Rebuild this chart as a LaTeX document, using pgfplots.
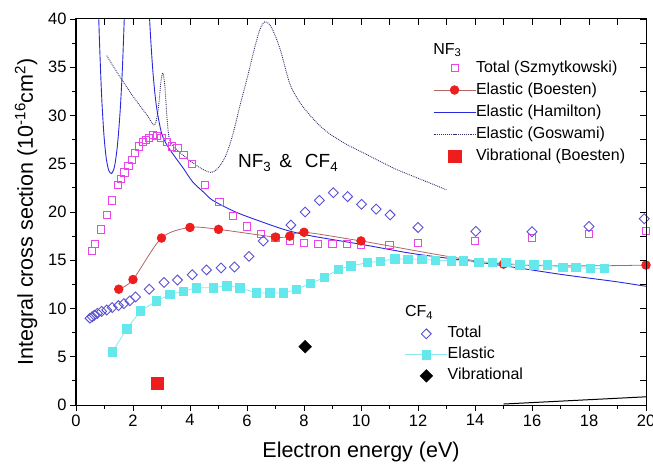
\documentclass[border=0pt]{standalone}
\usepackage{fontspec}
\setmainfont{Liberation Sans}
\usepackage{pgfplots}
\pgfplotsset{compat=1.18}

\definecolor{mag}{RGB}{232,70,232}
\definecolor{dia}{RGB}{90,80,210}
\definecolor{redc}{RGB}{238,30,30}
\definecolor{redl}{RGB}{180,100,100}
\definecolor{hblue}{RGB}{40,40,220}
\definecolor{gos}{RGB}{50,50,110}
\definecolor{cyanm}{RGB}{100,232,236}
\definecolor{cyanl}{RGB}{140,232,236}

\pgfplotsset{
  common/.style={
    at={(0,0)}, anchor=south west, scale only axis,
    width=570bp, height=386bp,
    xmin=0, xmax=20, ymin=0, ymax=40,
    axis line style={line width=1bp},
    every tick/.style={black, line width=0.9bp},
    /pgf/number format/assume math mode=true,
    legend cell align=left,
    legend image code/.code={\draw[mark repeat=2,mark phase=2,##1] plot coordinates {(0bp,0bp) (21bp,0bp) (42bp,0bp)};},
  },
  opendia/.style={only marks, mark=square, mark size=3.5bp, mark options={dia, line width=0.9bp, fill=none, rotate=45}},
  blackdia/.style={only marks, mark=square*, mark size=4.5bp, mark options={black, fill=black, rotate=45}},
}

\begin{document}
\begin{tikzpicture}
\useasboundingbox (-76bp,-59bp) rectangle (577bp,405bp);
\begin{axis}[common,
  xtick={0,2,...,20}, ytick={0,5,...,40},
  minor x tick num=1, minor y tick num=1,
  xtick pos=left, ytick pos=left, tick align=outside,
  major tick length=6bp, minor tick length=3.5bp,
  ticklabel style={font=\fontsize{16.5bp}{19bp}\selectfont},
  xlabel={Electron energy (eV)},
  ylabel={Integral cross section (10\textsuperscript{-16}cm\textsuperscript{2})},
  label style={font=\fontsize{21.5bp}{25bp}\selectfont},
  xlabel style={at={(axis description cs:0.5,-0.1373)}, anchor=base},
  ylabel style={at={(axis description cs:-0.0877,0.5)}, anchor=center},
  legend style={at={(axis cs:12.53,35.75)}, anchor=north west, draw=none, fill=none,
    inner sep=0pt, outer sep=0pt, font=\fontsize{16bp}{18bp}\selectfont,
    row sep=6bp, nodes={inner sep=0bp, text height=12bp, text depth=4bp},
    /tikz/column 2/.style={column sep=5bp}},
]
% Hamilton elastic NF3
\addplot[hblue, line width=0.9bp, smooth, forget plot] coordinates {
(0.76,44)(0.82,38)(0.9,32)(0.98,28)(1.06,25.6)(1.15,24.3)(1.25,24.0)(1.35,24.7)
(1.45,26.8)(1.55,30.5)(1.63,35)(1.7,40.5)(1.75,44)};
\addplot[hblue, line width=0.9bp, smooth, forget plot] coordinates {
(2.52,44)(2.6,39)(2.7,34.5)(2.82,31)(3.0,28.2)(3.2,26.9)(3.5,25.6)(3.75,24.6)
(4.1,23.1)(4.5,22.0)(4.8,21.2)(5.6,20.0)(6.5,19.0)(7.4,18.1)(8.3,17.5)(10.1,16.6)
(11.8,15.7)(13.6,15.0)(15.3,14.3)(17.1,13.5)(18.9,12.8)(20,12.3)};
% Goswami elastic NF3
\addplot[gos, line width=0.9bp, densely dotted, smooth, forget plot] coordinates {
(1.08,36.2)(1.5,34.2)(2.0,32.0)(2.5,30.0)(2.75,29.0)(2.88,30.5)(2.98,33.5)(3.05,34.4)
(3.12,33.0)(3.2,29.5)(3.3,27.3)(3.6,26.3)(4.0,25.3)(4.4,24.5)(4.75,24.1)(5.0,24.6)
(5.25,25.8)(5.5,28.0)(5.75,31.0)(6.0,33.8)(6.25,36.8)(6.45,38.9)(6.62,39.7)(6.8,39.4)
(7.0,38.2)(7.2,36.5)(7.5,33.3)(7.8,31.6)(8.1,30.4)(8.5,29.1)(8.9,28.1)(9.5,27.0)
(10.1,26.1)(10.7,25.2)(11.25,24.4)(12.0,23.5)(13.0,22.3)};
% Szmytkowski total NF3
\addplot[only marks, mark=square, mark size=3.6bp, mark options={mag, line width=0.9bp, fill=none}, forget plot] coordinates {
(0.55,16.0)(0.67,16.7)(0.87,18.2)(1.08,19.7)(1.25,21.2)(1.47,22.8)(1.58,23.4)(1.70,24.1)
(1.84,24.8)(1.95,25.4)(2.08,26.1)(2.22,26.8)(2.34,27.3)(2.46,27.5)(2.57,27.7)(2.71,28.0)
(2.85,27.9)(3.0,27.7)(3.2,27.3)(3.36,26.8)(3.56,26.6)(3.77,25.9)(4.06,25.0)(4.53,22.8)
(5.03,21.0)(5.5,19.6)(6.0,18.5)(6.5,17.7)(7.0,17.3)(7.5,17.0)(8.0,16.8)(8.5,16.7)
(9.0,16.7)(9.5,16.7)(10.0,16.6)(11.0,16.6)(12.0,16.8)(14.0,17.0)(16.0,17.3)(18.0,17.7)(20.0,18.0)};
% CF4 total
\addplot[opendia, forget plot] coordinates {
(0.49,9.0)(0.57,9.15)(0.64,9.3)(0.75,9.5)(0.9,9.7)(1.08,9.85)(1.27,10.1)(1.49,10.3)
(1.68,10.5)(1.89,10.8)(2.09,11.2)(2.57,12.0)(3.09,12.7)(3.56,12.95)(4.08,13.5)(4.58,14.0)
(5.09,14.2)(5.56,14.3)(6.07,15.4)(6.57,17.0)(7.54,18.65)(8.04,20.0)(8.54,21.2)(9.03,22.0)
(9.53,21.6)(10.02,20.8)(10.53,20.3)(11.02,19.7)(12.0,18.4)(14.03,18.0)(16.0,17.95)(18.0,18.5)(19.94,19.3)};
% Boesten elastic NF3
\addplot[redl, line width=0.8bp, smooth, mark=*, mark size=4.3bp, mark options={redc, fill=redc, draw=redc}, forget plot] coordinates {
(1.5,12.0)(2.0,13.0)(3.0,17.3)(4.0,18.4)(5.0,18.2)(7.0,17.4)(7.5,17.5)(8.0,17.9)(10.0,17.0)(15.0,14.6)(20.0,14.5)};
% CF4 elastic
\addplot[cyanl, line width=0.8bp, mark=square*, mark size=4.2bp, mark options={cyanm, fill=cyanm, draw=cyanm}, forget plot] coordinates {
(1.28,5.5)(1.78,7.9)(2.27,9.75)(2.83,10.8)(3.3,11.45)(3.77,11.8)(4.23,12.15)(4.82,12.15)
(5.29,12.36)(5.75,12.15)(6.34,11.6)(6.8,11.6)(7.27,11.6)(7.74,12.0)(8.23,12.6)(8.71,13.2)
(9.2,14.05)(9.64,14.4)(10.22,14.75)(10.69,14.9)(11.19,15.15)(11.64,15.1)(12.13,15.1)(12.62,15.0)
(13.18,14.95)(13.6,14.95)(14.14,14.75)(14.6,14.75)(15.08,14.75)(15.58,14.5)(16.07,14.5)(16.54,14.5)
(17.08,14.25)(17.54,14.25)(18.04,14.15)(18.53,14.15)};
% Vibrational NF3 (Boesten)
\addplot[only marks, mark=square*, mark size=6.3bp, mark options={redc, fill=redc}, forget plot] coordinates {(2.85,2.24)};
% Vibrational CF4
\addplot[blackdia, forget plot] coordinates {(8.04,6.04)};
% thin black line near baseline
\addplot[black, line width=1bp, forget plot] coordinates {(15,0.1)(20,0.85)};

\addlegendimage{only marks, mark=square, mark size=3.6bp, mark options={mag, line width=0.9bp, fill=none}}
\addlegendentry{Total (Szmytkowski)}
\addlegendimage{redl, line width=0.8bp, mark=*, mark size=4.3bp, mark options={redc, fill=redc, draw=redc}}
\addlegendentry{Elastic (Boesten)}
\addlegendimage{hblue, line width=0.9bp}
\addlegendentry{Elastic (Hamilton)}
\addlegendimage{gos, line width=0.9bp, densely dotted}
\addlegendentry{Elastic (Goswami)}
\addlegendimage{only marks, mark=square*, mark size=6.3bp, mark options={redc, fill=redc}}
\addlegendentry{Vibrational (Boesten)}

\node[anchor=west, font=\fontsize{16bp}{18bp}\selectfont, inner sep=0pt] at (axis cs:12.53,36.8) {NF\textsubscript{3}};
\node[anchor=west, font=\fontsize{16bp}{18bp}\selectfont, inner sep=0pt] at (axis cs:11.54,9.6) {CF\textsubscript{4}};
\node[anchor=base west, font=\fontsize{19bp}{22bp}\selectfont, inner sep=0pt] at (axis cs:5.68,24.56) {NF\textsubscript{3}\hspace{8bp}\&\hspace{13bp}CF\textsubscript{4}};
\end{axis}

\begin{axis}[common,
  xtick={0,1,...,20}, ytick={0,2.5,...,40},
  xtick pos=right, ytick pos=right, tick align=inside,
  major tick length=6bp,
  xticklabels={}, yticklabels={},
  legend style={at={(axis cs:11.54,8.2)}, anchor=north west, draw=none, fill=none,
    inner sep=0pt, outer sep=0pt, font=\fontsize{16bp}{18bp}\selectfont,
    row sep=5bp, nodes={inner sep=0bp, text height=12bp, text depth=4bp},
    /tikz/column 2/.style={column sep=5bp}},
]
\addlegendimage{opendia}
\addlegendentry{Total}
\addlegendimage{cyanl, line width=0.8bp, mark=square*, mark size=4.2bp, mark options={cyanm, fill=cyanm, draw=cyanm}}
\addlegendentry{Elastic}
\addlegendimage{blackdia}
\addlegendentry{Vibrational}
\end{axis}
\end{tikzpicture}
\end{document}
